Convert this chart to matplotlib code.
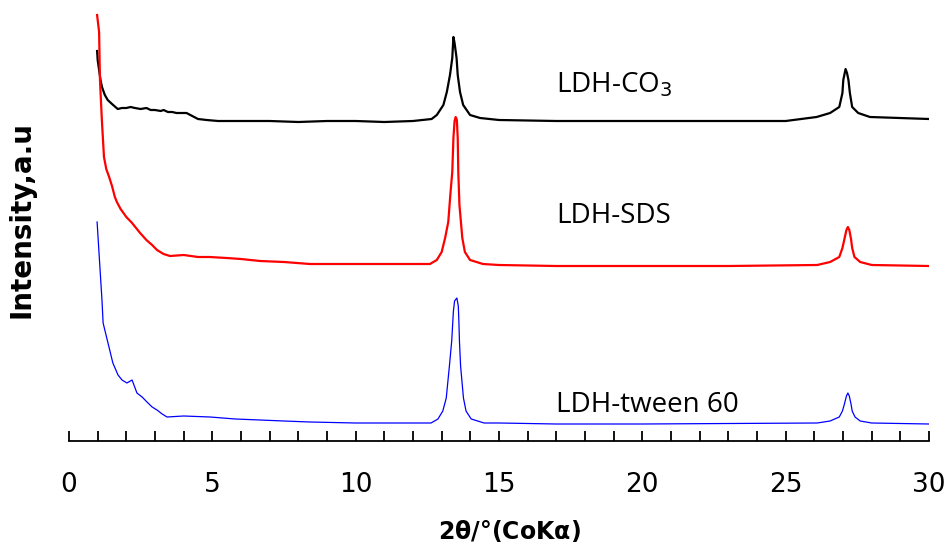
import numpy as np
import matplotlib
matplotlib.use("Agg")
import matplotlib.pyplot as plt
from matplotlib.ticker import MultipleLocator

###############################################################################
# Data (2theta in degrees, intensity in arb. units,
# each pattern already stacked with its vertical offset)
# ---------------------------------------------------------------------------
tt_co3 = [0.98, 1.00, 1.05, 1.10, 1.15, 1.25, 1.35, 1.50, 1.70, 1.85, 2.00, 2.15,
          2.30, 2.50, 2.70, 2.85, 3.00, 3.20, 3.30, 3.45, 3.60, 3.75, 3.90, 4.10,
          4.30, 4.50, 4.80, 5.20, 6.00, 7.00, 8.00, 9.00, 10.00, 11.00, 12.00,
          12.65, 12.83, 13.06, 13.18, 13.29, 13.37, 13.41, 13.45, 13.52, 13.56,
          13.64, 13.75, 13.99, 14.34, 15.00, 17.00, 20.00, 23.00, 25.00,
          26.08, 26.55, 26.87, 26.98, 27.01, 27.09, 27.14, 27.19, 27.24, 27.32,
          27.53, 27.94, 30.00]
int_co3 = [390, 381, 371, 361, 354, 346, 341, 337, 332, 333, 333, 334,
           333, 332, 333, 331, 331, 330, 331, 329, 329, 328, 328, 328,
           325, 322, 321, 320, 320, 320, 319, 320, 320, 319, 320,
           322, 326, 336, 349, 366, 383, 404, 398, 383, 366,
           349, 336, 326, 323, 321, 320, 320, 320, 320,
           324, 328, 334, 348, 361, 372, 368, 361, 348, 334,
           328, 324, 322]

tt_sds = [0.98, 1.05, 1.08, 1.15, 1.22, 1.30, 1.40, 1.50, 1.60, 1.67, 1.80, 2.00,
          2.20, 2.48, 2.70, 2.90, 3.07, 3.30, 3.52, 4.00, 4.50, 4.90, 5.50, 6.00,
          6.66, 7.50, 8.40, 10.00, 11.50, 12.59, 12.83, 13.00, 13.12, 13.23,
          13.31, 13.37, 13.41, 13.45, 13.49, 13.53, 13.56, 13.58, 13.62, 13.72,
          13.81, 13.99, 14.44, 15.00, 17.00, 20.00, 23.00, 26.10, 26.55, 26.87,
          26.98, 27.05, 27.12, 27.17, 27.22, 27.28, 27.32, 27.40, 27.60, 28.00,
          30.00]
int_sds = [426, 409, 361, 319, 284, 272, 264, 255, 244, 239, 232, 224,
           218, 208, 201, 196, 191, 187, 185, 186, 184, 184, 183, 182,
           180, 179, 177, 177, 177, 177, 181, 189, 203, 219,
           249, 269, 303, 320, 324, 321, 303, 269, 236, 203,
           189, 181, 177, 176, 175, 175, 175, 176, 179, 184,
           193, 202, 211, 214, 211, 202, 193, 184, 179, 176,
           175]

tt_tween = [0.98, 1.08, 1.15, 1.19, 1.36, 1.53, 1.71, 1.85, 2.02, 2.20, 2.37,
            2.55, 2.72, 2.90, 3.07, 3.25, 3.42, 4.00, 4.92, 5.80, 6.66, 7.50,
            8.40, 10.00, 12.00, 12.63, 12.87, 13.04, 13.16, 13.27, 13.35, 13.41,
            13.45, 13.53, 13.58, 13.60, 13.62, 13.66, 13.76, 13.85, 14.03, 14.48,
            15.00, 17.00, 20.00, 26.10, 26.55, 26.87, 26.98, 27.05, 27.12, 27.17,
            27.22, 27.28, 27.32, 27.42, 27.60, 28.00, 30.00]
int_tween = [219, 173, 141, 118, 98, 78, 66, 61, 58, 61, 48,
             44, 39, 34, 31, 27, 24, 25, 24, 22, 21, 20,
             19, 18, 18, 18, 22, 30, 43, 75, 100, 130,
             140, 143, 135, 120, 100, 75, 43, 30, 22, 18,
             18, 17, 17, 18, 20, 24, 30, 37, 45, 48,
             45, 37, 30, 24, 20, 18, 17]

labels = ["LDH-CO$_3$", "LDH-SDS", "LDH-tween 60"]
label_x = [17.0, 17.0, 17.0]
label_y = [349, 218, 29]

###############################################################################
# Figure
# ------
fig = plt.figure(figsize=(9.46, 5.5), dpi=100)
ax = fig.add_axes([69 / 946, 109 / 550, 860 / 946, 441 / 550])

ax.plot(tt_co3, int_co3, color="black", linewidth=1.6)
ax.plot(tt_sds, int_sds, color="#ff0000", linewidth=1.6)
ax.plot(tt_tween, int_tween, color="#0000ff", linewidth=0.9)

for lab, xx, yy in zip(labels, label_x, label_y):
    ax.text(xx, yy, lab, fontsize=20, family="Open Sans", va="baseline", ha="left")

ax.set_xlim(0, 30)
ax.set_ylim(0, 441)
for side in ["top", "right", "left"]:
    ax.spines[side].set_visible(False)
ax.spines["bottom"].set_linewidth(1.3)
ax.set_yticks([])
ax.xaxis.set_major_locator(MultipleLocator(5))
ax.xaxis.set_minor_locator(MultipleLocator(1))
ax.tick_params(axis="x", which="both", direction="in", length=7, width=1.3,
               labelsize=19, pad=22)

ax.set_xlabel(r"2$\mathregular{\theta}$/°(CoK$\mathregular{\alpha}$)", fontsize=17,
              fontweight="bold")
ax.xaxis.set_label_coords(0.512, -0.175)
ax.set_ylabel("Intensity,a.u", fontsize=20, fontweight="bold", va="center", ha="center")
ax.yaxis.set_label_coords(-0.055, 0.503)

plt.savefig("out.png", dpi=100)
